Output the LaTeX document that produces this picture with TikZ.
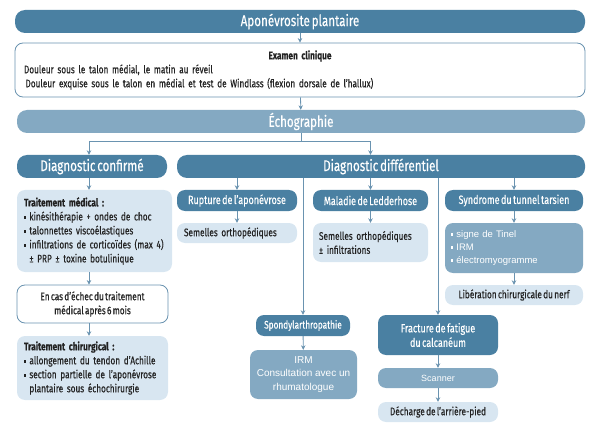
\documentclass[tikz,border=0pt]{standalone}
\usepackage{fontspec}
\setmainfont[FakeStretch=0.75, WordSpace=0.6, FakeBold=0.4]{Fira Sans}
\newfontfamily\plainsf{Liberation Sans}
\usetikzlibrary{arrows.meta}

\definecolor{dblue}{HTML}{4A80A2}
\definecolor{mblue}{HTML}{84A9C2}
\definecolor{lblue}{HTML}{D8E6F1}
\definecolor{lineblue}{HTML}{6A93B0}
\definecolor{txt}{HTML}{222222}

\newcommand{\sqb}{\raisebox{1.7pt}{\rule{2.4pt}{2.4pt}}\hspace{3pt}}

\begin{document}
\begin{tikzpicture}[x=1pt, y=-1pt, >={Stealth[length=4.5pt,width=4.5pt]},
		bigbar/.style={fill=dblue, rounded corners=10pt, text=white, inner sep=0pt, font=\fontsize{15.5}{17}\selectfont},
		headbox/.style={fill=dblue, rounded corners=8pt, text=white, inner sep=0pt, align=center, font=\fontsize{12}{14.5}\selectfont},
		softbox/.style={fill=lblue, rounded corners=8pt, text=txt, inner sep=0pt, font=\fontsize{11}{14}\selectfont},
		midbox/.style={fill=mblue, rounded corners=8pt, text=white, inner sep=0pt, font=\plainsf\fontsize{9.5}{13}\selectfont},
		openbox/.style={draw=lineblue, line width=0.8pt, fill=white, rounded corners=8pt, text=txt, inner sep=0pt, font=\fontsize{11}{14}\selectfont},
		link/.style={draw=lineblue, line width=0.8pt}]

		\useasboundingbox (0,0) rectangle (600,433);

		% Top: title, exam, echography
		\node[bigbar, minimum width=570, minimum height=23] (apo) at (300,21.5) {Aponévrosite plantaire};
		\node[openbox, minimum width=570, minimum height=54, text width=552, align=left] (exam) at (300,70)
			{\makebox[552pt]{\bfseries Examen clinique}\\
			 Douleur sous le talon médial, le matin au réveil\\
			 \hspace{1.5pt}Douleur exquise sous le talon en médial et test de Windlass (flexion dorsale de l'hallux)};
		\node[bigbar, fill=mblue, minimum width=568, minimum height=23] (echo) at (301,121.5) {Échographie};

		% Two branches
		\node[bigbar, minimum width=150, minimum height=23] (confirme) at (92,166.5) {Diagnostic confirmé};
		\node[bigbar, minimum width=408, minimum height=23] (diffq) at (381,166.5) {Diagnostic différentiel};

		% Left column: treatments
		\node[softbox, minimum width=155, minimum height=82, text width=141, align=left] (medical) at (94.5,231)
			{\textbf{Traitement médical :}\\
			 \sqb kinésithérapie + ondes de choc\\
			 \sqb talonnettes viscoélastiques\\
			 \sqb infiltrations de corticoïdes (max 4)\\
			 \hspace{5.4pt}± PRP ± toxine botulinique};
		\node[openbox, minimum width=151, minimum height=38, align=center] (echec) at (92.5,304)
			{En cas d'échec du traitement\\médical après 6 mois};
		\node[softbox, minimum width=151, minimum height=64, text width=137, align=left] (chir) at (92.5,368)
			{\textbf{Traitement chirurgical :}\\
			 \sqb allongement du tendon d'Achille\\
			 \sqb section partielle de l'aponévrose\\
			 \hspace{5.4pt}plantaire sous échochirurgie};

		% Differential diagnoses
		\node[headbox, minimum width=120, minimum height=21] (rupture) at (237,200.5) {Rupture de l'aponévrose};
		\node[softbox, minimum width=120, minimum height=20, text width=106, align=left] (semA) at (237,233) {Semelles orthopédiques};

		\node[headbox, minimum width=115, minimum height=21] (ledder) at (370.5,200.5) {Maladie de Ledderhose};
		\node[softbox, minimum width=115, minimum height=39, text width=103, align=left] (semB) at (370.5,242.5)
			{Semelles orthopédiques\\± infiltrations};

		\node[headbox, minimum width=138, minimum height=21] (tarsien) at (514,200.5) {Syndrome du tunnel tarsien};
		\node[midbox, minimum width=138, minimum height=50, text width=126, align=left] (signes) at (514,248)
			{\sqb signe de Tinel\\ \sqb IRM\\ \sqb électromyogramme};
		\node[softbox, minimum width=138, minimum height=20, align=center] (liberation) at (514,295) {Libération chirurgicale du nerf};

		\node[headbox, font=\fontsize{11}{14}\selectfont, minimum width=94, minimum height=21] (spondy) at (303,325.5) {Spondylarthropathie};
		\node[midbox, font=\plainsf\fontsize{10}{13.5}\selectfont, minimum width=107, minimum height=49, align=center] (irm) at (303.5,374.5)
			{IRM\\Consultation avec un\\rhumatologue};

		\node[headbox, minimum width=120, minimum height=40] (fracture) at (438,335) {Fracture de fatigue\\du calcanéum};
		\node[midbox, font=\plainsf\fontsize{9}{13}\selectfont, minimum width=120, minimum height=20] (scanner) at (438,378) {Scanner};
		\node[softbox, minimum width=120, minimum height=20] (decharge) at (438,412) {Décharge de l'arrière-pied};

		% --- Connections ---
		\draw[link, ->] (apo) -- (exam);
		\draw[link, ->] (exam) -- (echo);
		\draw[link] (echo.south) -- ++(0,8) coordinate (split);
		\draw[link, ->] (split) -| (confirme.north -| 89,0);
		\draw[link, ->] (split) -| (ledder.north |- diffq.north);

		\draw[link, ->] (confirme.south -| 89,0) -- (medical.north -| 89,0);
		\draw[link, ->] (medical.south -| 89,0) -- (echec.north -| 89,0);
		\draw[link, ->] (echec.south -| 89,0) -- (chir.north -| 89,0);

		\draw[link, ->] (rupture.north |- diffq.south) -- (rupture.north);
		\draw[link, ->] (ledder.north |- diffq.south) -- (ledder.north);
		\draw[link, ->] (tarsien.north |- diffq.south) -- (tarsien.north);
		\draw[link, ->] (spondy.north |- diffq.south) -- (spondy.north);
		\draw[link, ->] (fracture.north |- diffq.south) -- (fracture.north);

		\draw[link, ->] (rupture) -- (semA);
		\draw[link, ->] (ledder) -- (semB);
		\draw[link, ->] (tarsien) -- (signes);
		\draw[link, ->] (signes) -- (liberation);
		\draw[link, ->] (spondy) -- (irm);
		\draw[link, ->] (fracture) -- (scanner);
		\draw[link, ->] (scanner) -- (decharge);

	\end{tikzpicture}
\end{document}
